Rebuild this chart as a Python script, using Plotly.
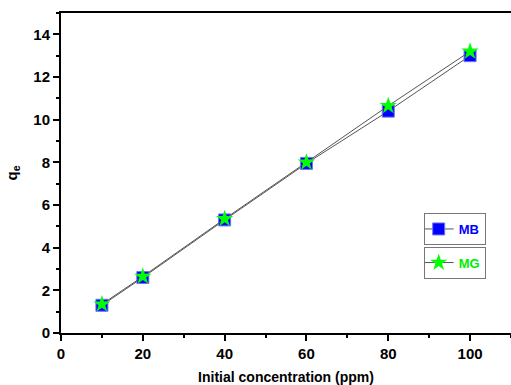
import plotly.graph_objects as go

conc = [10, 20, 40, 60, 80, 100]
qe_mb = [1.30, 2.60, 5.30, 7.95, 10.40, 13.00]
qe_mg = [1.35, 2.65, 5.35, 8.00, 10.65, 13.20]

FONT = "Liberation Sans"

fig = go.Figure()
fig.add_trace(go.Scatter(
    x=conc, y=qe_mb, name="<b>MB</b>", mode="lines+markers",
    line=dict(color="#555555", width=1),
    marker=dict(symbol="square", size=12, color="#0000ff", line=dict(width=1, color="#7070ff")),
    legend="legend", showlegend=True))
fig.add_trace(go.Scatter(
    x=conc, y=qe_mg, name="<b>MG</b>", mode="lines+markers",
    line=dict(color="#555555", width=1),
    marker=dict(symbol="star", size=13, color="#00ff00", line=dict(width=0)),
    legend="legend2", showlegend=True))

axis_common = dict(
    showgrid=False, zeroline=False, showline=True, linecolor="black", linewidth=2,
    ticks="outside", ticklen=6, tickwidth=1.5, tickcolor="black",
    tickfont=dict(family=FONT, size=15, color="black", weight="bold"),
)

fig.update_layout(
    width=511, height=385,
    showlegend=True,
    margin=dict(l=61, r=0, t=13, b=52),
    paper_bgcolor="white", plot_bgcolor="white",
    xaxis=dict(range=[0, 110], dtick=20, tick0=0, mirror=True,
               minor=dict(dtick=10, ticklen=3, tickcolor="black", ticks="outside"),
               title=dict(text="<b>Initial concentration (ppm)</b>",
                          font=dict(family=FONT, size=14, color="black"), standoff=12),
               **axis_common),
    yaxis=dict(range=[0, 15], dtick=2, tick0=0, mirror=False,
               minor=dict(dtick=1, ticklen=3, tickcolor="black", ticks="outside"),
               title=dict(text="<b>q<sub>e</sub></b>",
                          font=dict(family=FONT, size=15, color="black"), standoff=12),
               **axis_common),
    legend=dict(x=0.806, y=0.375, xanchor="left", yanchor="top",
                bordercolor="#777777", borderwidth=1, bgcolor="white",
                font=dict(family=FONT, size=13, color="#0000ff"),
                itemwidth=30, tracegroupgap=0, indentation=-6),
    legend2=dict(x=0.806, y=0.27, xanchor="left", yanchor="top",
                 bordercolor="#777777", borderwidth=1, bgcolor="white",
                 font=dict(family=FONT, size=13, color="#00ee00"),
                 itemwidth=30, tracegroupgap=0, indentation=-6),
)

fig.write_html("out.html")
